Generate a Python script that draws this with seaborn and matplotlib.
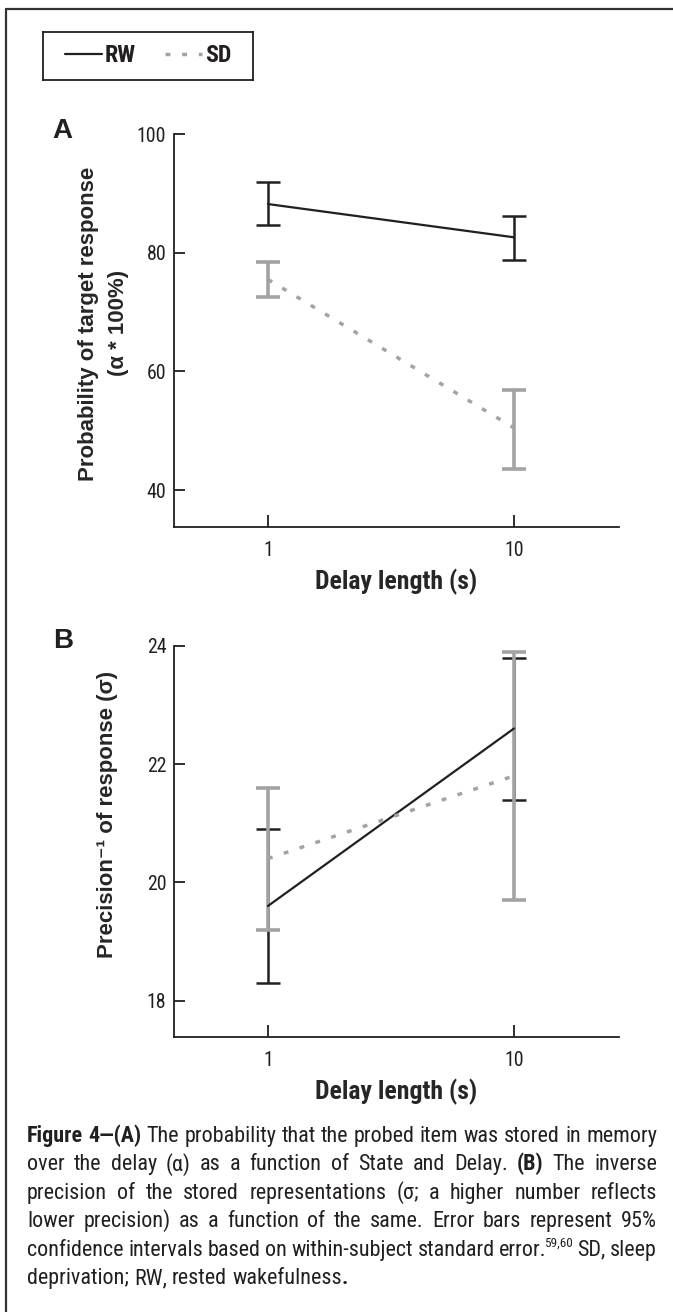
import os
import re
import numpy as np
import pandas as pd
import matplotlib
matplotlib.use("Agg")
import matplotlib.pyplot as plt
import seaborn as sns
from matplotlib import font_manager as fm
from matplotlib.lines import Line2D

# Data
delays = ["1", "10"]
states = ["RW", "SD"]

# A: probability of target response (alpha * 100%), mean and 95% CI
alpha_rw = [88.2, 82.6]
alpha_rw_lo = [84.7, 78.8]
alpha_rw_hi = [91.9, 86.2]
alpha_sd = [75.5, 50.5]
alpha_sd_lo = [72.5, 43.6]
alpha_sd_hi = [78.4, 56.8]

# B: precision^-1 of response (sigma), mean and 95% CI
sigma_rw = [19.6, 22.6]
sigma_rw_lo = [18.3, 21.4]
sigma_rw_hi = [20.9, 23.8]
sigma_sd = [20.4, 21.8]
sigma_sd_lo = [19.2, 19.7]
sigma_sd_hi = [21.6, 23.9]

ticks_a = [40, 60, 80, 100]
ticks_b = [18, 20, 22, 24]

caption = [
    "**Figure 4—(A)** The probability that the probed item was stored in memory",
    "over the delay (α) as a function of State and Delay. **(B)** The inverse",
    "precision of the stored representations (σ; a higher number reflects",
    "lower precision) as a function of the same. Error bars represent 95%",
    "confidence intervals based on within-subject standard error.^{59,60} SD, sleep",
    "deprivation; RW, rested wakefulness**.**",
]

BLACK = "#231f20"
GREY = "#a3a3a5"
SANS = ["Liberation Sans", "DejaVu Sans"]

sns.set_theme(style="ticks")
plt.rcParams["font.family"] = SANS
plt.rcParams["text.color"] = BLACK
plt.rcParams["axes.edgecolor"] = BLACK


# the original uses a condensed face; take one if the system has it
def find_font(bold):
    keys = ["liberationsansnarrow", "robotocondensed", "opensans_condensed",
            "opensanscondensed", "dejavusanscondensed"]
    skip = ["italic", "oblique", "light", "thin", "medium", "black", "semi", "extra"]
    for key in keys:
        for f in fm.fontManager.ttflist:
            base = os.path.basename(f.fname).lower().replace("-", "")
            if key in base and ("bold" in base) == bold and not any(s in base for s in skip):
                return f.fname
    return None


narrow_reg = find_font(False)
narrow_bold = find_font(True)


def fp(size, bold=False):
    path = narrow_bold if bold else narrow_reg
    if path:
        return fm.FontProperties(fname=path, size=size)
    return fm.FontProperties(family=SANS, size=size, weight="bold" if bold else "normal")


W, H = 673, 1312
fig = plt.figure(figsize=(W / 100, H / 100), dpi=100)
r = fig.canvas.get_renderer()


def fit_size(text, bold, target, base=10.0):
    t = fig.text(0, 0, text, fontproperties=fp(base, bold))
    w = t.get_window_extent(r).width
    t.remove()
    return base * target / w


def make_df(rw, rw_lo, rw_hi, sd, sd_lo, sd_hi):
    df = pd.DataFrame({
        "delay": delays * 2,
        "state": ["RW"] * 2 + ["SD"] * 2,
        "mean": rw + sd,
        "lo": rw_lo + sd_lo,
        "hi": rw_hi + sd_hi,
    })
    df["pos"] = df["delay"].map({d: i for i, d in enumerate(delays)})
    return df


tick_size = min(14.5, fit_size("100", False, 29))
xlab_size = min(18.5, fit_size("Delay length (s)", True, 162))


def panel(rect, df, ylim, yticks, ylabel, label_xy):
    ax = fig.add_axes(rect)
    for state, color, lw in [("RW", BLACK, 1.8), ("SD", GREY, 2.6)]:
        d = df[df["state"] == state]
        ax.errorbar(d["pos"], d["mean"], yerr=[d["mean"] - d["lo"], d["hi"] - d["mean"]],
                    fmt="none", ecolor=color, elinewidth=lw, capsize=8.3, capthick=lw,
                    clip_on=False, zorder=2)
    sns.lineplot(data=df, x="pos", y="mean", hue="state", style="state",
                 palette={"RW": BLACK, "SD": GREY},
                 dashes={"RW": "", "SD": (1.4, 3.4)}, legend=False, ax=ax, zorder=3)
    for line in ax.lines:
        line.set_linewidth(2.5 if line.get_color() == GREY else 1.6)
        line.set_dash_capstyle("butt")
    ax.set_xlim(-0.382, 1.427)
    ax.set_ylim(*ylim)
    ax.set_xticks(range(len(delays)))
    ax.set_xticklabels(delays)
    ax.set_yticks(yticks)
    ax.spines[["top", "right"]].set_visible(False)
    for s in ["left", "bottom"]:
        ax.spines[s].set_linewidth(1.3)
    ax.tick_params(axis="x", direction="in", length=9, width=1.3, pad=10, colors=BLACK)
    ax.tick_params(axis="y", direction="in", length=7.7, width=1.3, pad=5.5, colors=BLACK)
    for lab in ax.get_xticklabels() + ax.get_yticklabels():
        lab.set_fontproperties(fp(tick_size))
    ax.set_xlabel("Delay length (s)", fontproperties=fp(xlab_size, True), labelpad=6)
    ax.set_ylabel(ylabel, fontsize=16, fontweight="bold", family=SANS, linespacing=1.55)
    ax.yaxis.set_label_coords(*label_xy)
    ax.grid(False)
    return ax


df_a = make_df(alpha_rw, alpha_rw_lo, alpha_rw_hi, alpha_sd, alpha_sd_lo, alpha_sd_hi)
df_b = make_df(sigma_rw, sigma_rw_lo, sigma_rw_hi, sigma_sd, sigma_sd_lo, sigma_sd_hi)

left, width = 174 / W, 445 / W
ax_a = panel([left, 1 - 527 / H, width, 393 / H], df_a, (33.8, 100), ticks_a,
             "Probability of target response\n(α * 100%)", (-0.101, 0.518))
ax_b = panel([left, 1 - 1037.3 / H, width, 391.6 / H], df_b, (17.38, 24), ticks_b,
             "Precision⁻¹ of response (σ)", (-0.126, 0.568))

fig.text(52 / W, 1 - 138 / H, "A", fontsize=20, fontweight="bold", family=SANS, va="baseline")
fig.text(53 / W, 1 - 648 / H, "B", fontsize=20, fontweight="bold", family=SANS, va="baseline")

# legend: a small framed box holding a centred legend
leg_size = min(18, fit_size("RW", True, 31))
lax = fig.add_axes([43 / W, 1 - 80 / H, 210 / W, 48 / H])
lax.set_xticks([])
lax.set_yticks([])
for s in lax.spines.values():
    s.set_visible(True)
    s.set_linewidth(1.3)
    s.set_color(BLACK)
handles = [Line2D([], [], color=BLACK, lw=1.6),
           Line2D([], [], color=GREY, lw=2.5, dashes=(1.4, 3.4), dash_capstyle="butt")]
lax.legend(handles, states, loc="center", ncol=2, frameon=False, prop=fp(leg_size, True),
           handlelength=1.55, handletextpad=0.1, columnspacing=1.25, borderpad=0, borderaxespad=0)

# outer frame (left and top edges only)
fig.add_artist(Line2D([6 / W, 1], [1 - 9 / H, 1 - 9 / H], color="#333333", lw=1.6, transform=fig.transFigure))
fig.add_artist(Line2D([6 / W, 6 / W], [1 - 9 / H, 0], color="#333333", lw=1.6, transform=fig.transFigure))


# justified caption
def parse(line):
    words = [[]]
    for seg in re.split(r"(\*\*[^*]+\*\*|\^\{[^}]+\})", line):
        if not seg:
            continue
        if seg.startswith("**"):
            style, txt = "b", seg[2:-2]
        elif seg.startswith("^{"):
            style, txt = "s", seg[2:-1]
        else:
            style, txt = "n", seg
        for k, p in enumerate(txt.split(" ")):
            if k > 0:
                words.append([])
            if p:
                words[-1].append((p, style))
    return [w for w in words if w]


x0, x1 = 27, 657
base0, pitch = 1142, 28.4
SUP_KERN = 3  # pull superscripts back against the preceding glyph


def piece(txt, style, size):
    if style == "s":
        return fig.text(0, 0, txt, fontproperties=fp(size * 0.6), va="baseline")
    return fig.text(0, 0, txt, fontproperties=fp(size, style == "b"), va="baseline")


def piece_width(a, s):
    return a.get_window_extent(r).width - (SUP_KERN if s == "s" else 0)


def space_width(size):
    a = fig.text(0, 0, "a a", fontproperties=fp(size))
    b = fig.text(0, 0, "aa", fontproperties=fp(size))
    w = a.get_window_extent(r).width - b.get_window_extent(r).width
    a.remove()
    b.remove()
    return w


def layout_line(words, size):
    arts = [[(piece(t, s, size), s) for t, s in w] for w in words]
    wid = [sum(piece_width(a, s) for a, s in w) for w in arts]
    return arts, wid


# first line is set nearly tight in the original: pick the size from it
words0 = parse(caption[0])
arts0, wid0 = layout_line(words0, 10)
natural = sum(wid0) + space_width(10) * (len(words0) - 1)
for w in arts0:
    for a, _ in w:
        a.remove()
cap_size = min(16.5, 10 * (x1 - x0 - 6) / natural)
space = space_width(cap_size)

for i, line in enumerate(caption):
    words = parse(line)
    arts, wid = layout_line(words, cap_size)
    last = i == len(caption) - 1
    gap = space if last else (x1 - x0 - sum(wid)) / (len(words) - 1)
    x = x0
    y = base0 + i * pitch
    for w, ww in zip(arts, wid):
        xx = x
        for a, s in w:
            if s == "s":
                xx -= SUP_KERN
                yy = y - cap_size * 0.42 * 100 / 72
            else:
                yy = y
            a.set_position((xx / W, 1 - yy / H))
            xx += a.get_window_extent(r).width
        x += ww + gap

fig.savefig("out.png", dpi=100)
